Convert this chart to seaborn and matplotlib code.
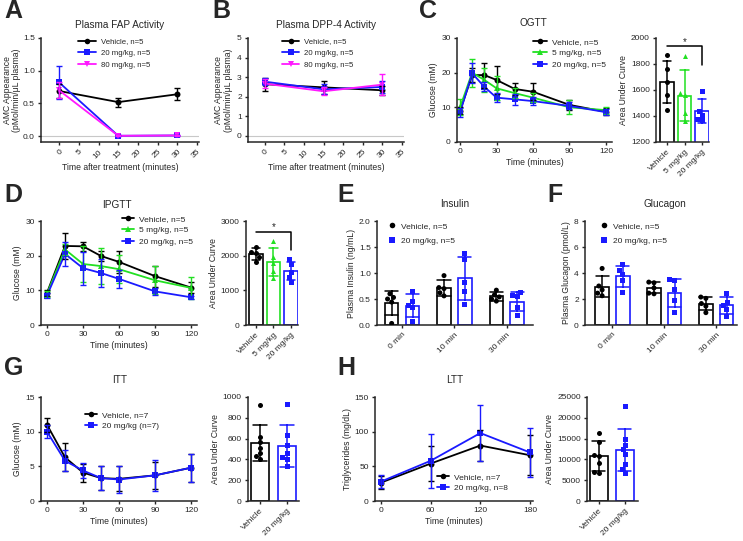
import numpy as np
import pandas as pd

import matplotlib
matplotlib.use("Agg")
import matplotlib.pyplot as plt
from matplotlib.lines import Line2D
import seaborn as sns

sns.set_style("ticks")
plt.rcParams['font.family'] = ['Liberation Sans', 'DejaVu Sans']
plt.rcParams['axes.linewidth'] = 1.1
plt.rcParams['xtick.major.width'] = 1.0
plt.rcParams['ytick.major.width'] = 1.0
plt.rcParams['xtick.major.size'] = 2.5
plt.rcParams['ytick.major.size'] = 2.5
plt.rcParams['xtick.major.pad'] = 2
plt.rcParams['ytick.major.pad'] = 2
plt.rcParams['xtick.labelsize'] = 6
plt.rcParams['ytick.labelsize'] = 6
plt.rcParams['axes.labelsize'] = 6.2
plt.rcParams['axes.labelpad'] = 2

# ---------------- data ----------------
# A: plasma FAP activity
fap_time = [0, 15, 30]
fap_vehicle = [0.69, 0.52, 0.64]
fap_vehicle_err = [0.10, 0.07, 0.09]
fap_20 = [0.82, 0.005, 0.01]
fap_20_err = [0.25, 0.01, 0.01]
fap_80 = [0.70, 0.005, 0.01]
fap_80_err = [0.12, 0.01, 0.01]

# B: plasma DPP-4 activity
dpp_time = [0, 15, 30]
dpp_vehicle = [2.64, 2.48, 2.33]
dpp_vehicle_err = [0.33, 0.35, 0.22]
dpp_20 = [2.77, 2.38, 2.5]
dpp_20_err = [0.18, 0.25, 0.3]
dpp_80 = [2.67, 2.28, 2.62]
dpp_80_err = [0.22, 0.2, 0.55]

# C: OGTT
ogtt_time = [0, 10, 20, 30, 45, 60, 90, 120]
ogtt_vehicle = [9.0, 19.3, 19.3, 17.9, 15.3, 14.5, 10.7, 8.7]
ogtt_vehicle_err = [1.0, 2.0, 3.6, 4.0, 1.7, 2.5, 1.4, 1.0]
ogtt_5 = [10.0, 20.0, 17.9, 15.5, 14.1, 12.8, 10.0, 9.2]
ogtt_5_err = [2.3, 4.0, 3.4, 3.5, 1.5, 1.3, 2.0, 1.0]
ogtt_20 = [8.5, 19.8, 15.9, 12.8, 12.3, 11.8, 10.4, 8.6]
ogtt_20_err = [1.3, 2.9, 1.3, 1.3, 1.5, 1.2, 1.0, 0.9]
ogtt_auc_vehicle = [1870, 1760, 1665, 1560, 1450]
ogtt_auc_5 = [1864, 1580, 1560, 1420, 1360]
ogtt_auc_20 = [1595, 1440, 1410, 1380, 1370]
ogtt_sig = (1935, 1790, 1965)

# D: IPGTT
ipgtt_time = [0, 15, 30, 45, 60, 90, 120]
ipgtt_vehicle = [9.3, 22.8, 22.7, 19.9, 18.2, 14.1, 10.8]
ipgtt_vehicle_err = [0.8, 3.8, 1.3, 1.4, 3.2, 3.0, 1.5]
ipgtt_5 = [9.0, 21.8, 17.6, 17.0, 16.1, 12.9, 10.7]
ipgtt_5_err = [0.8, 1.5, 5.2, 5.3, 4.1, 4.0, 3.2]
ipgtt_20 = [8.5, 20.5, 16.4, 15.0, 13.3, 9.7, 8.0]
ipgtt_20_err = [0.8, 3.5, 4.8, 4.0, 2.5, 1.0, 0.5]
ipgtt_auc_vehicle = [2250, 2120, 2080, 1950, 1830]
ipgtt_auc_5 = [2420, 1950, 1800, 1550, 1350]
ipgtt_auc_20 = [1890, 1760, 1530, 1380, 1250]
ipgtt_sig = (2690, 2150, 2830)

# E: insulin / F: glucagon (per time point)
hormone_times = ['0 min', '10 min', '30 min']
insulin_vehicle = [[0.60, 0.53, 0.50, 0.44, 0.03],
                   [0.95, 0.72, 0.70, 0.62, 0.56],
                   [0.67, 0.58, 0.54, 0.50, 0.46]]
insulin_20 = [[0.65, 0.45, 0.38, 0.33, 0.06],
              [1.38, 1.26, 0.82, 0.64, 0.40],
              [0.62, 0.57, 0.55, 0.33, 0.18]]
glucagon_vehicle = [[4.35, 3.0, 2.7, 2.45, 2.25],
                    [3.3, 3.25, 2.85, 2.45, 2.4],
                    [2.15, 2.05, 1.65, 1.45, 0.95]]
glucagon_20 = [[4.65, 4.2, 3.9, 3.45, 2.5],
               [3.5, 3.4, 2.75, 1.85, 0.95],
               [2.45, 1.75, 1.5, 1.2, 0.65]]

# G: ITT
itt_time = [0, 15, 30, 45, 60, 90, 120]
itt_vehicle = [11.0, 6.3, 4.1, 3.3, 3.2, 3.7, 4.8]
itt_vehicle_err = [1.0, 2.0, 1.3, 1.7, 1.8, 1.9, 2.0]
itt_20 = [10.0, 5.8, 4.4, 3.3, 3.1, 3.7, 4.8]
itt_20_err = [0.9, 1.5, 1.1, 1.7, 2.0, 2.2, 2.0]
itt_auc_vehicle = [920, 615, 567, 510, 460, 430, 400]
itt_auc_20 = [935, 630, 535, 460, 420, 400, 340]

# H: LTT
ltt_time = [0, 60, 120, 180]
ltt_vehicle = [26.5, 54, 80, 66]
ltt_vehicle_err = [9, 25, 23, 29]
ltt_20 = [28, 58, 98, 70]
ltt_20_err = [9, 39, 40, 35]
ltt_auc_vehicle = [16300, 14200, 11100, 10900, 9200, 7000, 6800]
ltt_auc_20 = [22900, 14800, 13500, 12400, 11300, 8800, 7700, 6700]

# ---------------- styles ----------------
STY = {
    'Vehicle': ('black', 'o'),
    '5 mg/kg': ('#22e022', '^'),
    '20 mg/kg': ('#1a1aff', 's'),
    '80 mg/kg': ('#ff19ff', 'v'),
}

W, H = 743, 541
fig = plt.figure(figsize=(W / 100, H / 100), dpi=100)


def box(l, t, r, b):
    ax = fig.add_axes([l / W, 1 - b / H, (r - l) / W, (b - t) / H])
    sns.despine(ax=ax)
    return ax


def line_panel(ax, time, series):
    names = [s[0] for s in series]
    rows = [(n, t, v) for n, vals, _ in series for t, v in zip(time, vals)]
    df = pd.DataFrame(rows, columns=['group', 'time', 'value'])
    sns.lineplot(data=df, x='time', y='value', hue='group', style='group',
                 hue_order=names, style_order=names,
                 palette={n: STY[n][0] for n in names},
                 markers={n: STY[n][1] for n in names}, dashes=False,
                 markersize=4.3, markeredgewidth=0, linewidth=1.3,
                 errorbar=None, legend=False, ax=ax)
    for n, vals, err in series:
        ax.errorbar(time, vals, yerr=err, fmt='none', ecolor=STY[n][0],
                    elinewidth=1.0, capsize=2, capthick=1.0)
    ax.set_xlabel('Time (minutes)')


def add_legend(ax, names, labels, x, y, hl, fs=6, sp=0.45, line=True):
    handles = [Line2D([], [], color=STY[n][0], marker=STY[n][1], markersize=4,
                      markeredgewidth=0, lw=1.3 if line else 0) for n in names]
    ax.legend(handles, labels, loc='upper left', bbox_to_anchor=(x / W, 1 - y / H),
              bbox_transform=fig.transFigure, frameon=False, fontsize=fs,
              handlelength=hl, handletextpad=0.6, labelspacing=sp,
              borderpad=0, borderaxespad=0)


def auc_panel(ax, groups, values, width):
    rows = [(g, v) for g, vals in zip(groups, values) for v in vals]
    df = pd.DataFrame(rows, columns=['group', 'value'])
    sns.barplot(data=df, x='group', y='value', hue='group', order=groups,
                hue_order=groups, palette={g: STY[g][0] for g in groups},
                fill=False, errorbar='sd', capsize=0.5, width=width,
                linewidth=1.2, err_kws={'linewidth': 1.1}, legend=False, ax=ax)
    for g in groups:
        sns.swarmplot(data=df[df.group == g], x='group', y='value', order=groups,
                      color=STY[g][0], marker=STY[g][1], size=3.6, linewidth=0,
                      ax=ax, zorder=4)
    ax.set_xlabel('')
    ax.set_ylabel('Area Under Curve')
    plt.setp(ax.get_xticklabels(), rotation=45, ha='right', rotation_mode='anchor')


def hormone_panel(ax, times, vehicle, treated):
    names = ['Vehicle', '20 mg/kg']
    rows = []
    for n, data in zip(names, [vehicle, treated]):
        for t, vals in zip(times, data):
            rows += [(n, t, v) for v in vals]
    df = pd.DataFrame(rows, columns=['group', 'time', 'value'])
    pal = {n: STY[n][0] for n in names}
    sns.barplot(data=df, x='time', y='value', hue='group', order=times,
                hue_order=names, palette=pal, fill=False, errorbar='sd',
                capsize=0.5, width=0.8, gap=0.35, linewidth=1.2,
                err_kws={'linewidth': 1.1}, legend=False, ax=ax)
    for n in names:
        sns.swarmplot(data=df[df.group == n], x='time', y='value', hue='group',
                      order=times, hue_order=names, dodge=True, palette=pal,
                      marker=STY[n][1], size=3.6, linewidth=0, legend=False,
                      ax=ax, zorder=4)
    ax.set_xlabel('')
    plt.setp(ax.get_xticklabels(), rotation=45, ha='right', rotation_mode='anchor')


# ---------------- A ----------------
ax = box(41, 38, 199, 142)
ax.axhline(0, color='#c8c8c8', lw=0.8, zorder=0)
line_panel(ax, fap_time, [('Vehicle', fap_vehicle, fap_vehicle_err),
                          ('20 mg/kg', fap_20, fap_20_err),
                          ('80 mg/kg', fap_80, fap_80_err)])
ax.set_xlim(-4.6, 35.5)
ax.set_ylim(-0.09, 1.5)
ax.set_xticks(range(0, 36, 5))
ax.set_yticks([0, 0.5, 1.0, 1.5])
ax.set_yticklabels(['0.0', '0.5', '1.0', '1.5'])
plt.setp(ax.get_xticklabels(), rotation=45, ha='right', rotation_mode='anchor')
ax.set_xlabel('Time after treatment (minutes)')
ax.set_ylabel('AMC Appearance\n(pMol/min/\u03bcL plasma)', labelpad=1, linespacing=1.1)
add_legend(ax, ['Vehicle', '20 mg/kg', '80 mg/kg'],
           ['Vehicle, n=5', '20 mg/kg, n=5', '80 mg/kg, n=5'], 78, 38, 2.3, fs=5.6, sp=0.55)

# ---------------- B ----------------
ax = box(248, 38, 404, 142)
ax.axhline(0, color='#c8c8c8', lw=0.8, zorder=0)
line_panel(ax, dpp_time, [('Vehicle', dpp_vehicle, dpp_vehicle_err),
                          ('20 mg/kg', dpp_20, dpp_20_err),
                          ('80 mg/kg', dpp_80, dpp_80_err)])
ax.set_xlim(-4.3, 35.5)
ax.set_ylim(-0.31, 5)
ax.set_xticks(range(0, 36, 5))
ax.set_yticks(range(0, 6))
plt.setp(ax.get_xticklabels(), rotation=45, ha='right', rotation_mode='anchor')
ax.set_xlabel('Time after treatment (minutes)')
ax.set_ylabel('AMC Appearance\n(pMol/min/\u03bcL plasma)', labelpad=3, linespacing=1.1)
add_legend(ax, ['Vehicle', '20 mg/kg', '80 mg/kg'],
           ['Vehicle, n=5', '20 mg/kg, n=5', '80 mg/kg, n=5'], 282, 38, 2.2, fs=5.6, sp=0.55)

# ---------------- C ----------------
ax = box(457, 38, 612, 142)
line_panel(ax, ogtt_time, [('Vehicle', ogtt_vehicle, ogtt_vehicle_err),
                           ('5 mg/kg', ogtt_5, ogtt_5_err),
                           ('20 mg/kg', ogtt_20, ogtt_20_err)])
ax.set_xlim(-2.5, 125)
ax.set_ylim(0, 30)
ax.set_xticks([0, 30, 60, 90, 120])
ax.set_yticks([0, 10, 20, 30])
ax.set_ylabel('Glucose (mM)')
add_legend(ax, ['Vehicle', '5 mg/kg', '20 mg/kg'],
           ['Vehicle, n=5', '5 mg/kg, n=5', '20 mg/kg, n=5'], 533, 38, 1.7)

ax = box(656, 38, 709, 142)
auc_panel(ax, ['Vehicle', '5 mg/kg', '20 mg/kg'],
          [ogtt_auc_vehicle, ogtt_auc_5, ogtt_auc_20], 0.75)
ax.set_xlim(-0.63, 2.4)
ax.set_ylim(1200, 2000)
ax.set_yticks([1200, 1400, 1600, 1800, 2000])
ax.plot([0, 2, 2], [ogtt_sig[0], ogtt_sig[0], ogtt_sig[1]], color='black', lw=1.1, clip_on=False)
ax.text(1, ogtt_sig[2], '*', ha='center', va='center', fontsize=7)

# ---------------- D ----------------
ax = box(41, 221, 197, 325)
line_panel(ax, ipgtt_time, [('Vehicle', ipgtt_vehicle, ipgtt_vehicle_err),
                            ('5 mg/kg', ipgtt_5, ipgtt_5_err),
                            ('20 mg/kg', ipgtt_20, ipgtt_20_err)])
ax.set_xlim(-5, 125)
ax.set_ylim(0, 30)
ax.set_xticks([0, 30, 60, 90, 120])
ax.set_yticks([0, 10, 20, 30])
ax.set_ylabel('Glucose (mM)')
add_legend(ax, ['Vehicle', '5 mg/kg', '20 mg/kg'],
           ['Vehicle, n=5', '5 mg/kg, n=5', '20 mg/kg, n=5'], 122, 215, 1.45)

ax = box(246, 221, 298, 325)
auc_panel(ax, ['Vehicle', '5 mg/kg', '20 mg/kg'],
          [ipgtt_auc_vehicle, ipgtt_auc_5, ipgtt_auc_20], 0.75)
ax.set_xlim(-0.57, 2.4)
ax.set_ylim(0, 3000)
ax.set_yticks([0, 1000, 2000, 3000])
ax.plot([0, 2, 2], [ipgtt_sig[0], ipgtt_sig[0], ipgtt_sig[1]], color='black', lw=1.1, clip_on=False)
ax.text(1, ipgtt_sig[2], '*', ha='center', va='center', fontsize=7)

# ---------------- E ----------------
ax = box(377, 221, 533, 325)
hormone_panel(ax, hormone_times, insulin_vehicle, insulin_20)
ax.set_xlim(-0.48, 2.5)
ax.set_ylim(0, 2)
ax.set_yticks([0, 0.5, 1.0, 1.5, 2.0])
ax.set_yticklabels(['0.0', '0.5', '1.0', '1.5', '2.0'])
ax.set_ylabel('Plasma Insulin (ng/mL)')
add_legend(ax, ['Vehicle', '20 mg/kg'], ['Vehicle, n=5', '20 mg/kg, n=5'],
           389, 222, 0.8, sp=0.85, line=False)

# ---------------- F ----------------
ax = box(585, 221, 737, 325)
hormone_panel(ax, hormone_times, glucagon_vehicle, glucagon_20)
ax.set_xlim(-0.53, 2.4)
ax.set_ylim(0, 8)
ax.set_yticks([0, 2, 4, 6, 8])
ax.set_ylabel('Plasma Glucagon (pmol/L)')
add_legend(ax, ['Vehicle', '20 mg/kg'], ['Vehicle, n=5', '20 mg/kg, n=5'],
           601, 222, 0.8, sp=0.85, line=False)

# ---------------- G ----------------
ax = box(41, 397, 197, 501)
line_panel(ax, itt_time, [('Vehicle', itt_vehicle, itt_vehicle_err),
                          ('20 mg/kg', itt_20, itt_20_err)])
ax.set_xlim(-5, 125)
ax.set_ylim(0, 15)
ax.set_xticks([0, 30, 60, 90, 120])
ax.set_yticks([0, 5, 10, 15])
ax.set_ylabel('Glucose (mM)')
add_legend(ax, ['Vehicle', '20 mg/kg'], ['Vehicle, n=7', '20 mg/kg (n=7)'], 85, 411, 1.45)

ax = box(248, 397, 299, 501)
auc_panel(ax, ['Vehicle', '20 mg/kg'], [itt_auc_vehicle, itt_auc_20], 0.67)
ax.set_xlim(-0.44, 1.44)
ax.set_ylim(0, 1000)
ax.set_yticks(range(0, 1001, 200))

# ---------------- H ----------------
ax = box(375, 397, 533, 501)
line_panel(ax, ltt_time, [('Vehicle', ltt_vehicle, ltt_vehicle_err),
                          ('20 mg/kg', ltt_20, ltt_20_err)])
ax.set_xlim(-7.2, 183.6)
ax.set_ylim(0, 150)
ax.set_xticks([0, 60, 120, 180])
ax.set_yticks([0, 50, 100, 150])
ax.set_ylabel('Triglycerides (mg/dL)')
add_legend(ax, ['Vehicle', '20 mg/kg'], ['Vehicle, n=7', '20 mg/kg, n=8'], 437, 473, 1.45)

ax = box(587, 397, 638, 501)
auc_panel(ax, ['Vehicle', '20 mg/kg'], [ltt_auc_vehicle, ltt_auc_20], 0.67)
ax.set_xlim(-0.46, 1.5)
ax.set_ylim(0, 25000)
ax.set_yticks(range(0, 25001, 5000))

# ---------------- titles and panel letters ----------------
titles = [('Plasma FAP Activity', 120, 25), ('Plasma DPP-4 Activity', 326, 25),
          ('OGTT', 533, 23), ('IPGTT', 117, 205), ('Insulin', 455, 204),
          ('Glucagon', 665, 204), ('ITT', 120, 380), ('LTT', 455, 380)]
for txt, x, y in titles:
    fig.text(x / W, 1 - y / H, txt, ha='center', va='center', fontsize=7.2)

letters = [('A', 4, 18), ('B', 212, 18), ('C', 419, 18), ('D', 4, 202),
           ('E', 337, 202), ('F', 547, 202), ('G', 4, 375), ('H', 337, 375)]
for txt, x, y in letters:
    fig.text(x / W, 1 - y / H, txt, ha='left', va='baseline', fontsize=18, fontweight='bold')

fig.savefig('out.png', dpi=100)
